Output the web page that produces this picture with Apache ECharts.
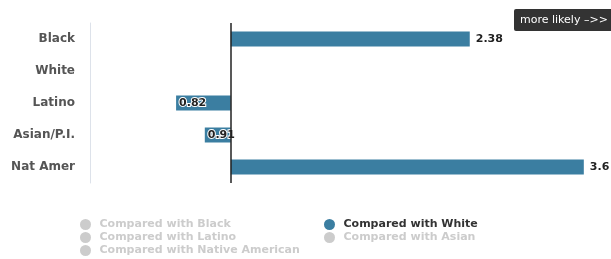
<!DOCTYPE html>
<html>
<head>
<meta charset="utf-8">
<script src="https://cdn.jsdelivr.net/npm/echarts@6/dist/echarts.min.js"></script>
<style>
  html, body { margin: 0; padding: 0; background: #fff; }
  #chart { width: 611px; height: 259px; }
</style>
</head>
<body>
<div id="chart"></div>
<script>
// groups on the y axis, top to bottom
var groups = ['Black', 'White', 'Latino', 'Asian/P.I.', 'Nat Amer']
// likelihood ratio compared with White (White itself has no bar)
var vsWhite = [2.38, null, 0.82, 0.91, 3.6]
// other comparisons are switched off in the legend
var vsBlack = []
var vsLatino = []
var vsNative = []
var vsAsian = []
var legendLeft = ['Compared with Black', 'Compared with Latino', 'Compared with Native American']
var legendRight = ['Compared with White', 'Compared with Asian']

var barColor = '#3b7ea1'
var chart = echarts.init(document.getElementById('chart'))

// ratios are drawn on a log scale, bars grow from 1 (ln = 0)
var logMin = Math.log(0.6)
var logMax = logMin + 521 / 275.6

var whiteData = vsWhite.map(function(v) {
  if (v === null) return { value: null }
  var item = { value: Math.log(v) }
  if (v < 1) {
    item.label = { position: 'insideLeft', distance: 3, textBorderColor: '#fff', textBorderWidth: 2 }
  } else {
    item.label = { position: 'right', distance: 6 }
  }
  return item
})

function emptySeries(name, data) {
  return { name: name, type: 'bar', data: data, itemStyle: { color: barColor } }
}

var legendText = { fontFamily: 'DejaVu Sans', fontSize: 11, color: '#333', fontWeight: 'bold', lineHeight: 13 }

chart.setOption({
  animation: false,
  title: {
    text: 'more likely \u2013>>',
    left: 514,
    top: 9,
    padding: [6, 6, 5, 6],
    backgroundColor: '#333',
    borderRadius: 2,
    textStyle: { color: '#fff', fontSize: 11, fontWeight: 'normal', fontFamily: 'DejaVu Sans' }
  },
  legend: [{
    orient: 'vertical',
    left: 80,
    top: 218,
    padding: 0,
    itemWidth: 18,
    itemHeight: 11,
    itemGap: 0,
    icon: 'circle',
    inactiveColor: '#ccc',
    data: legendLeft,
    textStyle: legendText
  }, {
    orient: 'vertical',
    left: 324,
    top: 218,
    padding: 0,
    itemWidth: 18,
    itemHeight: 11,
    itemGap: 0,
    icon: 'circle',
    inactiveColor: '#ccc',
    data: legendRight,
    textStyle: legendText
  }],
  grid: { left: 90, top: 23, width: 521, height: 160, containLabel: false },
  xAxis: {
    type: 'value',
    min: logMin,
    max: logMax,
    show: false
  },
  yAxis: {
    type: 'category',
    inverse: true,
    data: groups,
    axisLine: { onZero: false, lineStyle: { color: '#dde2ea', width: 1 } },
    axisTick: { show: false },
    axisLabel: {
      margin: 15,
      color: '#555',
      fontFamily: 'DejaVu Sans',
      fontSize: 12,
      fontWeight: 'bold'
    }
  },
  series: [
    emptySeries('Compared with Black', vsBlack),
    emptySeries('Compared with Latino', vsLatino),
    emptySeries('Compared with Native American', vsNative),
    {
      name: 'Compared with White',
      type: 'bar',
      barWidth: 15,
      barGap: '-100%',
      data: whiteData,
      itemStyle: { color: barColor },
      label: {
        show: true,
        color: '#222',
        fontFamily: 'DejaVu Sans',
        fontSize: 11,
        fontWeight: 'bold',
        formatter: function(p) {
          return vsWhite[p.dataIndex]
        }
      },
      markLine: {
        silent: true,
        symbol: 'none',
        label: { show: false },
        lineStyle: { color: '#222', width: 1.5, type: 'solid' },
        data: [{ xAxis: 0 }]
      }
    },
    emptySeries('Compared with Asian', vsAsian)
  ]
})

chart.setOption({
  legend: [{
    selected: {
      'Compared with Black': false,
      'Compared with Latino': false,
      'Compared with Native American': false
    }
  }, {
    selected: { 'Compared with Asian': false }
  }]
})
</script>
</body>
</html>
